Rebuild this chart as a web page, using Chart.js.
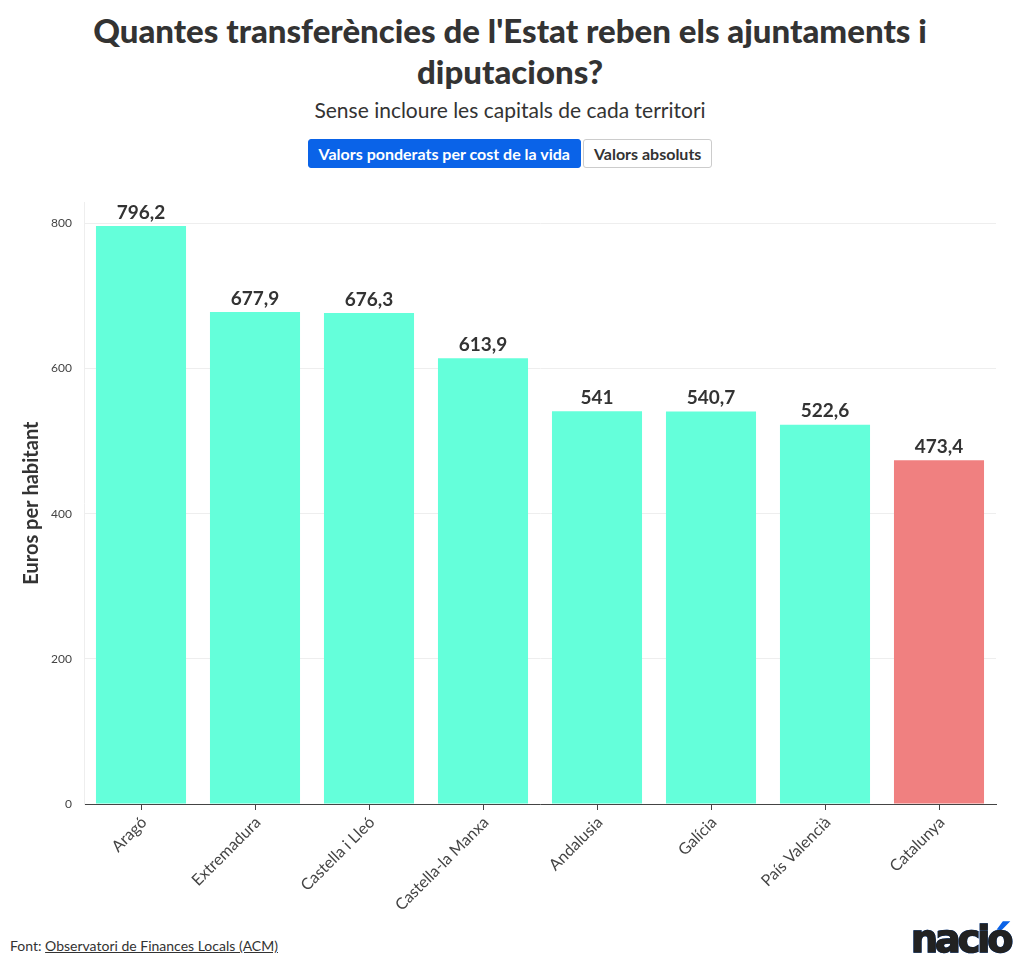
<!DOCTYPE html>
<html>
<head>
<meta charset="utf-8">
<script src="https://cdn.jsdelivr.net/npm/chart.js@4"></script>
<style>
  body { margin: 0; background: #fff; font-family: Lato, "Noto Sans", sans-serif; color: #333; }
  #wrap { width: 1020px; height: 974px; position: relative; }
  h1 { margin: 0; position: absolute; top: 10px; left: 40px; width: 940px; text-align: center;
       font-size: 33px; line-height: 41px; font-weight: 900; color: #333; }
  .sub { position: absolute; top: 97px; width: 1020px; text-align: center; font-size: 21px; color: #333; }
  .btns { position: absolute; top: 139px; width: 1020px; text-align: center; font-size: 0; }
  .btns span { display: inline-block; font-size: 16px; font-weight: 700; height: 27px; line-height: 27px;
               padding: 0 10px; border-radius: 3px; margin: 0 1px; }
  .on { background: #0a63e8; color: #fff; border: 1px solid #0a63e8; }
  .off { background: #fff; color: #333; border: 1px solid #ccc; }
  #box { position: absolute; top: 191px; left: 0; width: 1020px; height: 730px; }
  .foot { position: absolute; top: 937px; left: 10px; font-size: 14px; color: #333; }
  .foot u { text-decoration: underline; }
  .logo { position: absolute; top: 917px; left: 911px; font-family: "DejaVu Sans"; font-weight: 700;
          font-size: 38px; letter-spacing: -3px; color: #222; -webkit-text-stroke: 1.5px #222; }
  .logo.acc { color: #0a63e8; -webkit-text-stroke: 1.5px #0a63e8; }
</style>
</head>
<body>
<div id="wrap">
  <h1>Quantes transferències de l'Estat reben els ajuntaments i diputacions?</h1>
  <div class="sub">Sense incloure les capitals de cada territori</div>
  <div class="btns"><span class="on">Valors ponderats per cost de la vida</span><span class="off">Valors absoluts</span></div>
  <div id="box"><canvas id="chart"></canvas></div>
  <div class="foot">Font: <u>Observatori de Finances Locals (ACM)</u></div>
  <div class="logo acc">nació</div>
  <div class="logo">nacio</div>
</div>
<script>
const territoris = ['Aragó','Extremadura','Castella i Lleó','Castella-la Manxa','Andalusia','Galícia','País Valencià','Catalunya'];
const eurosPerHabitant = [796.2,677.9,676.3,613.9,541,540.7,522.6,473.4];
const barColors = ['#64ffda','#64ffda','#64ffda','#64ffda','#64ffda','#64ffda','#64ffda','#f08080'];
const yTicks = [0,200,400,600,800];

const fmt = v => String(v).replace('.', ',');

const valueLabels = {
    id: 'valueLabels',
    afterDatasetsDraw(chart) {
        const ctx = chart.ctx;
        const meta = chart.getDatasetMeta(0);
        ctx.save();
        ctx.font = 'bold 19px Lato, sans-serif';
        ctx.fillStyle = '#333';
        ctx.textAlign = 'center';
        ctx.textBaseline = 'bottom';
        meta.data.forEach((bar, i) => {
            ctx.fillText(fmt(eurosPerHabitant[i]), bar.x, bar.y - 4);
        });
        ctx.restore();
    }
};

let transferChart = new Chart(document.getElementById('chart').getContext('2d'), {
    type: 'bar',
    data: {
        labels: territoris,
        datasets: [{
            label: 'Euros per habitant',
            data: eurosPerHabitant,
            backgroundColor: barColors,
            categoryPercentage: 0.79,
            barPercentage: 1
        }]
    },
    options: {
        responsive: true,
        maintainAspectRatio: false,
        animation: false,
        layout: { padding: { left: 0, right: 24, top: 0, bottom: 0 } },
        plugins: { legend: { display: false }, tooltip: { enabled: false } },
        scales: {
            x: {
                grid: { drawOnChartArea: false, offset: false, tickLength: 6, tickColor: '#444' },
                border: { color: '#444', width: 1 },
                ticks: { maxRotation: 45, minRotation: 45, labelOffset: 3, color: '#444', font: { family: 'Lato', size: 16 } },
                afterFit(scale) { scale.height = 117; }
            },
            y: {
                min: 0,
                max: 829,
                afterBuildTicks(scale) { scale.ticks = yTicks.map(v => ({ value: v })); },
                grid: { color: '#eeeeee', tickLength: 8, tickColor: '#fff' },
                border: { color: '#eeeeee' },
                ticks: { color: '#444', font: { family: 'Lato', size: 12 }, padding: 4 },
                title: { display: true, text: 'Euros per habitant', color: '#333',
                         padding: { top: 20, bottom: 0 },
                         font: { family: 'Lato', size: 20, weight: 'bold' } },
                afterFit(scale) { scale.width = 84; }
            }
        }
    },
    plugins: [valueLabels]
});
</script>
</body>
</html>
